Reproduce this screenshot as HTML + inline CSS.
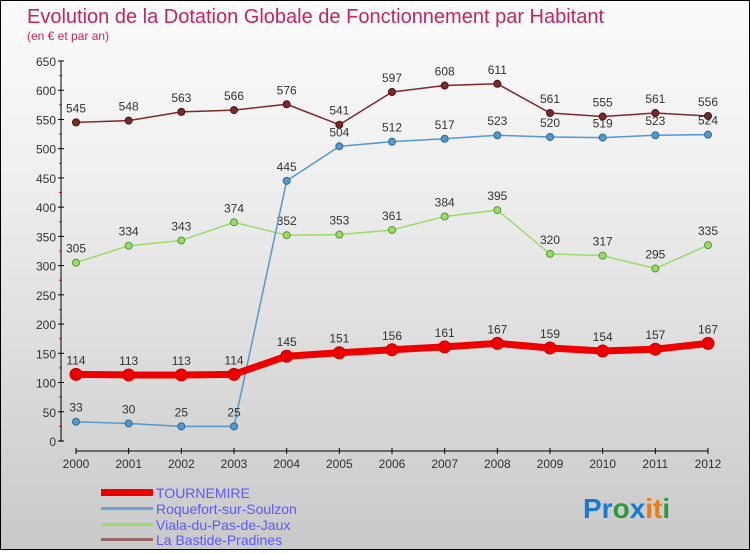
<!DOCTYPE html>
<html><head><meta charset="utf-8"><style>
body{margin:0;width:750px;height:550px;overflow:hidden;font-family:"Liberation Sans",sans-serif}
#wrap{position:relative;width:748px;height:548px;border:1px solid #000;background:linear-gradient(#fbfbfb,#f0f0f0 30%,#c9c9c9)}
svg text{font-family:"Liberation Sans",sans-serif}
</style></head><body>
<div id="wrap">
<svg id="c" width="748" height="548">
<text x="26" y="22" font-size="20" fill="#c8245a">Evolution de la Dotation Globale de Fonctionnement par Habitant</text>
<text x="26" y="39" font-size="12" fill="#c8245a">(en € et par an)</text>
<g id="axes"></g><g id="series"></g>
<g>
<rect x="100" y="488" width="52" height="7" fill="#e00"/>
<text x="155" y="497" font-size="14" fill="#5a5aff">TOURNEMIRE</text>
<rect x="100" y="506" width="52" height="3" fill="#6fa3d0"/>
<text x="155" y="513" font-size="14" fill="#5a5aff">Roquefort-sur-Soulzon</text>
<rect x="100" y="522" width="52" height="3" fill="#99dd66"/>
<text x="155" y="529" font-size="14" fill="#5a5aff">Viala-du-Pas-de-Jaux</text>
<rect x="100" y="537" width="52" height="3" fill="#996666"/>
<text x="155" y="544" font-size="14" fill="#5a5aff">La Bastide-Pradines</text>
</g>
<text x="582" y="517" font-size="28" font-weight="bold"><tspan fill="#1a7ad0">Pr</tspan><tspan fill="#2a9a3a">o</tspan><tspan fill="#1a7ad0">x</tspan><tspan fill="#f07a10">it</tspan><tspan fill="#2a9a3a">i</tspan></text>
</svg></div>
<script>
const years=[2000,2001,2002,2003,2004,2005,2006,2007,2008,2009,2010,2011,2012];
const tournemire=[114,113,113,114,145,151,156,161,167,159,154,157,167];
const roquefort=[33,30,25,25,445,504,512,517,523,520,519,523,524];
const viala=[305,334,343,374,352,353,361,384,395,320,317,295,335];
const bastide=[545,548,563,566,576,541,597,608,611,561,555,561,556];
const yTicks=[0,50,100,150,200,250,300,350,400,450,500,550,600,650];
const NS='http://www.w3.org/2000/svg';
const X=i=>75+i*(632/12), Y=v=>440-v*(380/650);
function mk(t,a,p){const e=document.createElementNS(NS,t);for(const k in a)e.setAttribute(k,a[k]);p.appendChild(e);return e;}
const ax=document.getElementById('axes'),sg=document.getElementById('series');
let e=mk('line',{x1:60,y1:Y(650),x2:60,y2:441,stroke:'#000'},ax);


e=mk('line',{x1:75,y1:450,x2:707,y2:450,stroke:'#000'},ax);


yTicks.forEach(v=>{mk('line',{x1:57,x2:63,y1:Y(v),y2:Y(v),stroke:'#000'},ax);
 if(v<650)mk('line',{x1:58,x2:61,y1:Y(v+25),y2:Y(v+25),stroke:'#e00'},ax);
 e=mk('text',{x:55,y:Y(v)+5,'text-anchor':'end','font-size':12,fill:'#333'},ax);e.textContent=v;
 
 });
years.forEach((y,i)=>{mk('line',{x1:X(i),x2:X(i),y1:447,y2:453,stroke:'#000'},ax);
 e=mk('text',{x:X(i),y:467,'text-anchor':'middle','font-size':12,fill:'#333'},ax);e.textContent=y;
 
 });
function series(d,col,w,r,name,dark){
 const g=mk('g',{},sg);
 
 
 mk('polyline',{points:d.map((v,i)=>X(i)+','+Y(v)).join(' '),fill:'none',stroke:col,'stroke-width':w,'stroke-linejoin':'round'},g);
 d.forEach((v,i)=>{const c=mk('circle',{cx:X(i),cy:Y(v),r:r,fill:col,stroke:dark,'stroke-width':1},g);
  
  
  const t=mk('text',{x:X(i),y:Y(v)-10,'text-anchor':'middle','font-size':12,fill:'#333'},g);t.textContent=v;
  
  });
}
series(bastide,'#7a2a2a',1.5,3.5,'bastide','#4a1010');
series(viala,'#99dd66',1.5,3.5,'viala','#559933');
series(roquefort,'#5599cc',1.5,3.5,'roquefort','#2a6a9a');
series(tournemire,'#ee0000',7,6,'tournemire','#cc0000');
</script></body></html>
